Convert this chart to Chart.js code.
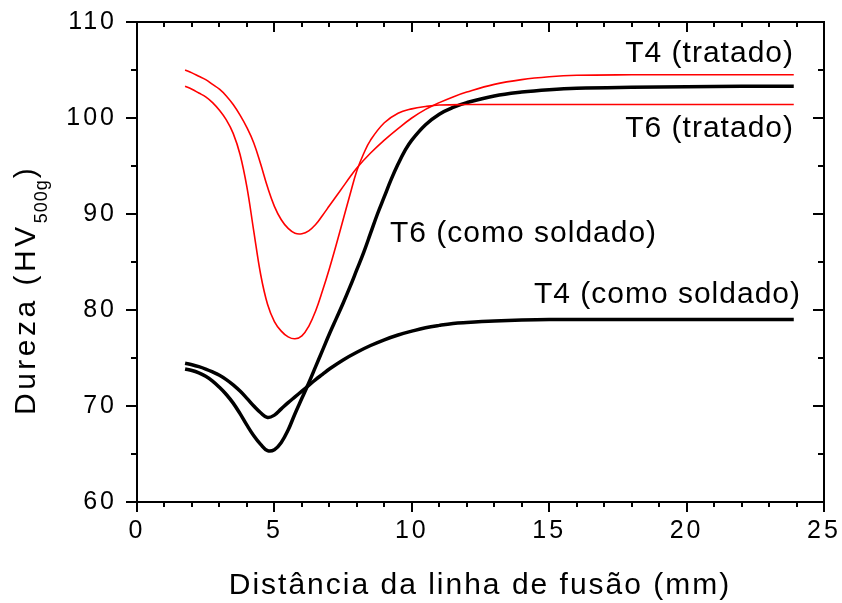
<!DOCTYPE html>
<html>
<head>
<meta charset="utf-8">
<script src="https://cdn.jsdelivr.net/npm/chart.js@4"></script>
<style>
html,body{margin:0;padding:0;background:#fff}
#wrap{width:842px;height:603px}
</style>
</head>
<body>
<div id="wrap"><canvas id="chart"></canvas></div>
<script>
// valores (distância em mm, dureza HV500g)
const xT4trat=[1.75,2.0,2.25,2.5,2.75,3.0,3.25,3.5,3.75,4.0,4.25,4.5,4.75,5.0,5.25,5.5,5.75,6.0,6.25,6.5,6.75,7.0,7.25,7.5,7.75,8.0,8.5,9.0,9.5,10.0,10.5,11.0,11.5,12.0,13.0,14.0,15.0,16.0,18.0,20.0,22.0,23.9];
const yT4trat=[105.0,104.7,104.35,104.0,103.5,103.0,102.3,101.4,100.3,99.0,97.4,95.2,92.8,90.8,89.4,88.5,88.0,87.95,88.25,88.9,89.85,90.85,91.85,92.85,93.85,94.8,96.35,97.7,98.9,100.0,100.9,101.6,102.2,102.7,103.5,104.0,104.3,104.45,104.5,104.5,104.5,104.5];
const xT6trat=[1.75,2.0,2.25,2.5,2.75,3.0,3.25,3.5,3.75,4.0,4.25,4.5,4.75,5.0,5.25,5.5,5.75,6.0,6.25,6.5,6.75,7.0,7.25,7.5,7.75,8.0,8.25,8.5,9.0,9.5,10.0,10.5,11.0,12.0,14.0,17.0,20.0,23.9];
const yT6trat=[103.3,103.0,102.6,102.2,101.6,100.8,99.8,98.4,96.2,92.8,88.2,83.7,80.6,78.8,77.8,77.2,77.0,77.3,78.3,79.9,82.0,84.3,86.8,89.4,92.0,94.5,96.3,97.7,99.5,100.5,100.95,101.2,101.35,101.4,101.4,101.4,101.4,101.4];
const xT6sold=[1.75,2.0,2.25,2.5,2.75,3.0,3.25,3.5,3.75,4.0,4.25,4.5,4.75,5.0,5.25,5.5,5.75,6.0,6.25,6.5,6.75,7.0,7.25,7.5,7.75,8.0,8.25,8.5,8.75,9.0,9.25,9.5,9.75,10.0,10.5,11.0,11.5,12.0,13.0,14.0,15.0,16.0,18.0,20.0,22.0,23.9];
const yT6sold=[73.85,73.7,73.45,73.1,72.6,71.95,71.2,70.3,69.2,68.0,66.9,66.0,65.35,65.45,66.2,67.5,69.2,70.8,72.4,74.1,75.8,77.5,79.1,80.7,82.4,84.2,86.0,88.0,90.0,91.8,93.6,95.2,96.6,97.7,99.3,100.4,101.1,101.6,102.3,102.7,102.95,103.1,103.2,103.25,103.3,103.3];
const xT4sold=[1.75,2.0,2.25,2.5,2.75,3.0,3.25,3.5,3.75,4.0,4.25,4.5,4.75,5.0,5.25,5.5,5.75,6.0,6.25,6.5,6.75,7.0,7.5,8.0,8.5,9.0,9.5,10.0,10.5,11.0,11.5,12.0,13.0,14.0,15.0,17.0,20.0,23.9];
const yT4sold=[74.45,74.3,74.1,73.85,73.55,73.2,72.75,72.2,71.55,70.8,70.0,69.3,68.8,69.05,69.7,70.35,70.95,71.55,72.15,72.75,73.3,73.85,74.8,75.6,76.3,76.9,77.4,77.8,78.15,78.4,78.6,78.7,78.85,78.95,79.0,79.0,79.0,79.0];

const FONT='"Liberation Sans", Arial, sans-serif';
const pts=(xs,ys)=>xs.map((x,i)=>({x,y:ys[i]}));

function serie(xs,ys,cor,larg){
  return {data:pts(xs,ys),borderColor:cor,borderWidth:larg,pointRadius:0,fill:false,tension:0.4};
}
function semPadding(s){s.paddingTop=0;s.paddingBottom=0;s.paddingLeft=0;s.paddingRight=0}

const spacing={
  id:'spacing',
  beforeUpdate(c){c.ctx.letterSpacing='3px'},
  beforeLayout(c){c.ctx.letterSpacing='3px'},
  beforeDraw(c){c.ctx.letterSpacing='3px'}
};

const moldura={
  id:'moldura',
  afterDatasetsDraw(c){
    const {ctx,chartArea:a,scales:{x,y}}=c;
    ctx.save();
    ctx.strokeStyle='#000';ctx.lineWidth=2;
    ctx.strokeRect(a.left,a.top,a.right-a.left,a.bottom-a.top);
    ctx.beginPath();
    for(let v=0;v<=25;v++){
      const px=Math.round(x.getPixelForValue(v));
      const L=v%5===0?10:5;
      ctx.moveTo(px,a.bottom);ctx.lineTo(px,a.bottom+L);
      ctx.moveTo(px,a.top);ctx.lineTo(px,a.top+L);
    }
    for(let v=60;v<=110;v+=5){
      const py=Math.round(y.getPixelForValue(v));
      const L=v%10===0?11:6;
      ctx.moveTo(a.left,py);ctx.lineTo(a.left-L,py);
      ctx.moveTo(a.right,py);ctx.lineTo(a.right-L,py);
    }
    ctx.stroke();
    ctx.restore();
  },
  afterDraw(c){
    const ctx=c.ctx;
    ctx.save();
    ctx.fillStyle='#000';
    ctx.textBaseline='alphabetic';
    // rótulos das curvas
    ctx.font='30px '+FONT;ctx.letterSpacing='1px';
    ctx.textAlign='right';
    ctx.fillText('T4 (tratado)',794,62);
    ctx.fillText('T6 (tratado)',794,137);
    ctx.fillText('T4 (como soldado)',801,303);
    ctx.textAlign='left';
    ctx.fillText('T6 (como soldado)',390,242);
    // título eixo x
    ctx.letterSpacing='2px';ctx.textAlign='center';
    ctx.fillText('Distância da linha de fusão (mm)',480,594);
    // título eixo y com subscrito
    ctx.translate(35,415);ctx.rotate(-Math.PI/2);
    ctx.textAlign='left';
    ctx.letterSpacing='3.5px';
    const main='Dureza (HV';
    ctx.fillText(main,0,0);
    let w=ctx.measureText(main).width;
    ctx.font='18px '+FONT;ctx.letterSpacing='1px';
    ctx.fillText('500g',w,12);
    w+=ctx.measureText('500g').width;
    ctx.font='30px '+FONT;
    ctx.fillText(')',w+1,0);
    ctx.restore();
  }
};

new Chart(document.getElementById('chart'),{
  type:'line',
  data:{datasets:[
    serie(xT4trat,yT4trat,'#ff0000',1.6),
    serie(xT6trat,yT6trat,'#ff0000',1.6),
    serie(xT6sold,yT6sold,'#000000',3.5),
    serie(xT4sold,yT4sold,'#000000',3.5)
  ]},
  options:{
    responsive:true,maintainAspectRatio:false,animation:false,
    layout:{padding:{left:0,right:18,top:22,bottom:0}},
    plugins:{legend:{display:false},tooltip:{enabled:false}},
    scales:{
      x:{type:'linear',min:0,max:25,
        ticks:{stepSize:5,padding:14,color:'#000',font:{family:FONT,size:25},maxRotation:0},
        grid:{display:false,drawTicks:false},border:{display:false},
        afterFit(s){s.height=101;semPadding(s)}},
      y:{min:60,max:110,
        ticks:{stepSize:10,padding:20,color:'#000',font:{family:FONT,size:25}},
        grid:{display:false,drawTicks:false},border:{display:false},
        afterFit(s){s.width=137;semPadding(s)}}
    }
  },
  plugins:[spacing,moldura]
});
</script>
</body>
</html>
